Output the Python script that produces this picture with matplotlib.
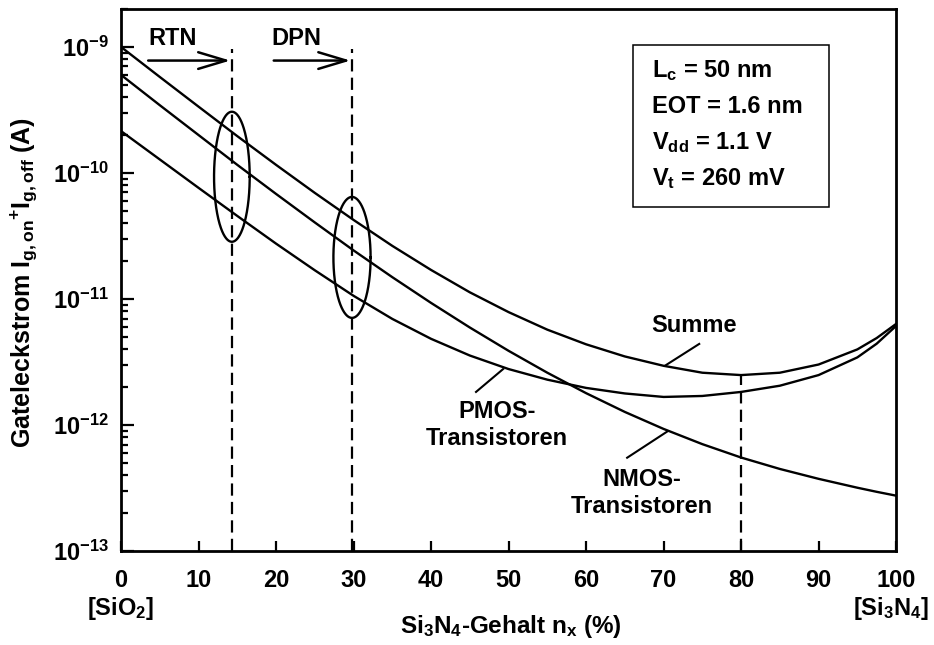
import numpy as np
import matplotlib
matplotlib.use('Agg')
import matplotlib.pyplot as plt
import matplotlib.ticker as ticker
from matplotlib.patches import Rectangle

plt.rcParams['font.family'] = 'Liberation Sans'
plt.rcParams['font.weight'] = 'bold'
plt.rcParams['mathtext.fontset'] = 'custom'
plt.rcParams['mathtext.rm'] = 'Liberation Sans:bold'
plt.rcParams['mathtext.it'] = 'Liberation Sans:bold'
plt.rcParams['mathtext.bf'] = 'Liberation Sans:bold'
plt.rcParams['mathtext.sf'] = 'Liberation Sans:bold'

# Si3N4 content (%) and gate leakage currents (A)
nx = [0, 5, 10, 15, 20, 25, 30, 35, 40, 45, 50,
      55, 60, 65, 70, 75, 80, 85, 90, 95, 97.5, 100]
summe = [1.00e-9, 5.78e-10, 3.36e-10, 1.96e-10, 1.16e-10, 6.95e-11, 4.24e-11,
         2.64e-11, 1.70e-11, 1.13e-11, 7.87e-12, 5.71e-12, 4.37e-12, 3.50e-12,
         2.95e-12, 2.60e-12, 2.49e-12, 2.60e-12, 3.02e-12, 3.98e-12, 4.90e-12, 6.34e-12]
nmos = [6.00e-10, 3.45e-10, 2.00e-10, 1.16e-10, 6.82e-11, 4.05e-11, 2.43e-11,
        1.49e-11, 9.31e-12, 5.94e-12, 3.88e-12, 2.60e-12, 1.79e-12, 1.27e-12,
        9.31e-13, 7.05e-13, 5.52e-13, 4.48e-13, 3.74e-13, 3.18e-13, 2.95e-13, 2.75e-13]
pmos = [2.15e-10, 1.28e-10, 7.62e-11, 4.56e-11, 2.75e-11, 1.69e-11, 1.06e-11,
        6.95e-12, 4.83e-12, 3.56e-12, 2.78e-12, 2.29e-12, 1.97e-12, 1.78e-12,
        1.67e-12, 1.70e-12, 1.83e-12, 2.05e-12, 2.49e-12, 3.44e-12, 4.42e-12, 6.11e-12]

# process markers: RTN and DPN nitridation limits, optimum at 80 %
rtn_x = 14.3
dpn_x = 29.8
opt_x = 80

param_lines = [r'L$_\mathregular{c}$ = 50 nm', 'EOT = 1.6 nm',
               r'V$_\mathregular{dd}$ = 1.1 V', r'V$_\mathregular{t}$ = 260 mV']

fig = plt.figure(figsize=(9.34, 6.45), dpi=100)
ax = fig.add_axes([0.1296, 0.1457, 0.8298, 0.8403])
ax.set_yscale('log')
ax.set_xlim(0, 100)
ax.set_ylim(1e-13, 2e-9)

lw = 1.7
ax.plot(nx, summe, color='k', lw=lw)
ax.plot(nx, nmos, color='k', lw=lw)
ax.plot(nx, pmos, color='k', lw=lw)

# ticks
ax.set_xticks(range(0, 101, 10))
ax.yaxis.set_major_locator(ticker.LogLocator(base=10, numticks=10))
ax.yaxis.set_minor_locator(ticker.LogLocator(base=10, subs=np.arange(2, 10), numticks=20))
ax.yaxis.set_major_formatter(ticker.FuncFormatter(
    lambda v, p: r'$10^{%d}$' % round(np.log10(v))))
ax.yaxis.set_minor_formatter(ticker.NullFormatter())
ax.tick_params(axis='both', which='both', direction='in', top=False, right=False,
               width=1.6, labelsize=17)
ax.tick_params(axis='y', which='major', length=9, pad=9)
ax.tick_params(axis='y', which='minor', length=5)
ax.tick_params(axis='x', which='major', length=7, pad=13)
for sp in ax.spines.values():
    sp.set_linewidth(2.0)

# dashed markers
dash = (0, (5.5, 2.8))
ax.plot([rtn_x, rtn_x], [1e-13, 9.6e-10], color='k', lw=1.6, linestyle=dash)
ax.plot([dpn_x, dpn_x], [1e-13, 9.6e-10], color='k', lw=1.6, linestyle=dash)
ax.plot([opt_x, opt_x], [1e-13, summe[nx.index(opt_x)]], color='k', lw=1.6, linestyle=dash)

# arrows with labels
arrow_y = 7.8e-10
for x0, x1, tx, lab in [(3.5, rtn_x - 0.2, 6.65, 'RTN'), (19.7, dpn_x - 0.2, 22.6, 'DPN')]:
    ax.annotate('', xy=(x1, arrow_y), xytext=(x0, arrow_y),
                arrowprops=dict(arrowstyle='->,head_length=1.0,head_width=0.3',
                                mutation_scale=20, lw=1.8, color='k',
                                shrinkA=0, shrinkB=0))
    ax.text(tx, 1.035e-9, lab, ha='center', va='baseline', fontsize=17)

# ellipses around the curves at RTN and DPN
t = np.linspace(0, 2 * np.pi, 300)
for cx, hw, cy, hh in [(rtn_x, 2.3, -10.03, 0.516), (dpn_x, 2.4, -10.67, 0.48)]:
    ax.plot(cx + hw * np.cos(t), 10 ** (cy + hh * np.sin(t)), color='k', lw=lw)

# curve labels with leader lines
ax.text(73.9, 6.2e-12, 'Summe', ha='center', va='center', fontsize=17)
ax.plot([70.2, 74.6], [2.96e-12, 4.4e-12], color='k', lw=1.5)
ax.text(48.5, 1.0e-12, 'PMOS-\nTransistoren', ha='center', va='center',
        fontsize=17, linespacing=1.2)
ax.plot([45.8, 49.3], [1.83e-12, 2.78e-12], color='k', lw=1.5)
ax.text(67.2, 2.88e-13, 'NMOS-\nTransistoren', ha='center', va='center',
        fontsize=17, linespacing=1.2)
ax.plot([65.3, 70.5], [5.5e-13, 8.9e-13], color='k', lw=1.5)

# parameter box
ax.add_patch(Rectangle((0.660, 0.635), 0.254, 0.299, transform=ax.transAxes,
                       fill=False, lw=1.1, color='k'))
for i, s in enumerate(param_lines):
    ax.text(0.685, 0.8745 - i * 0.0665, s, transform=ax.transAxes,
            ha='left', va='baseline', fontsize=17)

# axis labels
ax.text(-0.001, -0.118, r'[SiO$_\mathregular{2}$]', transform=ax.transAxes,
        ha='center', va='baseline', fontsize=17)
ax.text(0.993, -0.118, r'[Si$_\mathregular{3}$N$_\mathregular{4}$]', transform=ax.transAxes,
        ha='center', va='baseline', fontsize=17)
ax.text(0.503, -0.151, r'Si$_\mathregular{3}$N$_\mathregular{4}$-Gehalt n$_\mathregular{x}$ (%)',
        transform=ax.transAxes, ha='center', va='baseline', fontsize=17.5)
ax.text(-0.126, 0.496,
        r'Gateleckstrom I$_\mathregular{g,on}$$^\mathregular{+}$I$_\mathregular{g,off}$ (A)',
        transform=ax.transAxes, ha='center', va='center', rotation=90, fontsize=18)

fig.savefig('out.png', dpi=100)
